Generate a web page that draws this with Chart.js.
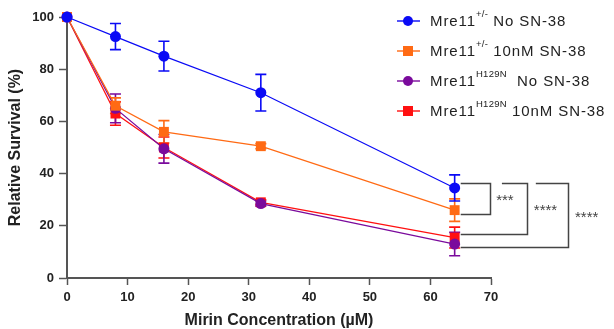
<!DOCTYPE html>
<html>
<head>
<meta charset="utf-8">
<script src="https://cdn.jsdelivr.net/npm/chart.js@4"></script>
<style>
    body { margin: 0; background: #fff; }
    #wrap { position: relative; width: 614px; height: 329px; }
    #legend { position: absolute; left: 397px; top: 9px; font-family: Arial, "Liberation Sans", sans-serif; font-size: 15px; letter-spacing: 0.9px; color: #222; }
    .row { position: relative; height: 30px; line-height: 24px; padding-left: 33px; white-space: nowrap; }
    .row .ln { position: absolute; left: 0; top: 11px; width: 23px; height: 2px; }
    .row .mk { position: absolute; left: 6px; top: 7px; width: 10px; height: 10px; }
    .row sup { font-size: 9.5px; letter-spacing: 0.3px; position: relative; top: -2px; vertical-align: top; line-height: 14px; }
</style>
</head>
<body>
<div id="wrap">
    <canvas id="survivalChart" width="614" height="329"></canvas>
    <div id="legend"></div>
</div>
<script>
// Mirin concentrations (uM)
const concentrations = [0, 8, 16, 32, 64];

// Relative survival (%) per group, with error bars
const hetNoDrug = [100, 92.5, 85, 71, 34.5];
const hetNoDrugErr = [0, 5, 5.7, 7, 5];
const hetSN38 = [100, 66, 56, 50.5, 26];
const hetSN38Err = [0, 3, 4.3, 1, 4.3];
const mutNoDrug = [100, 65, 49.5, 28.5, 13];
const mutNoDrugErr = [0, 5.5, 5.5, 1, 4.5];
const mutSN38 = [100, 63, 50, 29, 15.5];
const mutSN38Err = [0, 4.5, 4, 1, 4];

const seriesLabels = [
    ['Mre11', '+/-', ' No SN-38'],
    ['Mre11', '+/-', ' 10nM SN-38'],
    ['Mre11', 'H129N', '  No SN-38'],
    ['Mre11', 'H129N', ' 10nM SN-38']
];
const seriesColors = ['#0a0af5', '#ff6a14', '#7a0a9c', '#ff1010'];
const seriesShapes = ['circle', 'rect', 'circle', 'rect'];

// Significance comparisons at 64 uM (top level, bottom level, bracket x, top start x, label x)
const sigLabels = ['***', '****', '****'];
const sigTop = [36.5, 36.5, 36.5];
const sigBottom = [24.5, 16.9, 12];
const sigBracketX = [69.8, 76, 82.7];
const sigTopStartX = [65, 71.8, 77.4];
const sigLabelX = [72.3, 79, 85.8];

const xTicks = [0, 10, 20, 30, 40, 50, 60, 70];
const yTicks = [0, 20, 40, 60, 80, 100];

const allValues = [hetNoDrug, hetSN38, mutNoDrug, mutSN38];
const allErrors = [hetNoDrugErr, hetSN38Err, mutNoDrugErr, mutSN38Err];

const fontFamily = 'Arial, "Liberation Sans", sans-serif';

// Error bars drawn behind the markers
const errorBarPlugin = {
    id: 'errorBars',
    beforeDatasetsDraw(chart) {
        const ctx = chart.ctx;
        const xs = chart.scales.x;
        const ys = chart.scales.y;
        for (let d = allValues.length - 1; d >= 0; d--) {
            ctx.save();
            ctx.strokeStyle = seriesColors[d];
            ctx.lineWidth = 1.6;
            allValues[d].forEach((v, i) => {
                const err = allErrors[d][i];
                if (!err) return;
                const px = xs.getPixelForValue(concentrations[i]);
                const top = ys.getPixelForValue(v + err);
                const bot = ys.getPixelForValue(v - err);
                ctx.beginPath();
                ctx.moveTo(px, top); ctx.lineTo(px, bot);
                ctx.moveTo(px - 5.5, top); ctx.lineTo(px + 5.5, top);
                ctx.moveTo(px - 5.5, bot); ctx.lineTo(px + 5.5, bot);
                ctx.stroke();
            });
            ctx.restore();
        }
    }
};

// Significance brackets on the right side
const bracketPlugin = {
    id: 'brackets',
    afterDatasetsDraw(chart) {
        const ctx = chart.ctx;
        const xs = chart.scales.x;
        const ys = chart.scales.y;
        ctx.save();
        ctx.strokeStyle = '#444';
        ctx.lineWidth = 1.5;
        ctx.fillStyle = '#444';
        ctx.font = '15px ' + fontFamily;
        ctx.textAlign = 'center';
        ctx.textBaseline = 'middle';
        sigLabels.forEach((label, i) => {
            const yTop = Math.round(ys.getPixelForValue(sigTop[i])) + 0.5;
            const yBot = Math.round(ys.getPixelForValue(sigBottom[i])) + 0.5;
            const xV = Math.round(xs.getPixelForValue(sigBracketX[i])) + 0.5;
            const xTopStart = xs.getPixelForValue(sigTopStartX[i]);
            const xBotStart = xs.getPixelForValue(sigTopStartX[0]);
            ctx.beginPath();
            ctx.moveTo(xTopStart, yTop);
            ctx.lineTo(xV, yTop);
            ctx.lineTo(xV, yBot);
            ctx.lineTo(xBotStart, yBot);
            ctx.stroke();
            ctx.fillText(label, xs.getPixelForValue(sigLabelX[i]), (yTop + yBot) / 2 + 2);
        });
        ctx.restore();
    }
};

function buildDatasets() {
    return allValues.map((values, d) => ({
        label: seriesLabels[d].join(''),
        data: values.map((v, i) => ({ x: concentrations[i], y: v })),
        borderColor: seriesColors[d],
        backgroundColor: seriesColors[d],
        borderWidth: 1.2,
        pointStyle: seriesShapes[d],
        pointRadius: seriesShapes[d] === 'rect' ? 7 : 5.5,
        pointBorderWidth: 0,
        pointHoverRadius: 6,
        fill: false,
        tension: 0,
        clip: false
    }));
}

function buildLegend() {
    const legend = document.getElementById('legend');
    seriesLabels.forEach((parts, d) => {
        const row = document.createElement('div');
        row.className = 'row';
        const round = seriesShapes[d] === 'circle' ? 'border-radius: 50%;' : '';
        row.innerHTML = `
            <span class="ln" style="background:${seriesColors[d]}; opacity:0.7"></span>
            <span class="mk" style="background:${seriesColors[d]}; ${round}"></span>
            ${parts[0]}<sup>${parts[1]}</sup>${parts[2].replace(/ /g, '&nbsp;')}
        `;
        legend.appendChild(row);
    });
}

const axisColor = '#555';

new Chart(document.getElementById('survivalChart'), {
    type: 'line',
    data: { datasets: buildDatasets() },
    options: {
        responsive: false,
        animation: false,
        layout: { padding: { left: 0, top: 17, right: 123, bottom: 0 } },
        plugins: {
            legend: { display: false },
            tooltip: { enabled: false }
        },
        scales: {
            x: {
                type: 'linear',
                min: 0,
                max: 70,
                afterBuildTicks: (scale) => { scale.ticks = xTicks.map(v => ({ value: v })); },
                afterFit: (scale) => { scale.height = 51; },
                grid: { drawOnChartArea: false, drawTicks: true, tickLength: 7, tickWidth: 1.5, tickColor: axisColor },
                border: { display: true, color: axisColor, width: 2 },
                ticks: { padding: 5, color: '#222', font: { family: fontFamily, size: 13, weight: 'bold' } },
                title: {
                    display: true,
                    text: 'Mirin Concentration (µM)',
                    color: '#222',
                    padding: { top: 0, bottom: 0 },
                    font: { family: fontFamily, size: 16, weight: 'bold', lineHeight: 1 }
                }
            },
            y: {
                min: 0,
                max: 100,
                afterBuildTicks: (scale) => { scale.ticks = yTicks.map(v => ({ value: v })); },
                afterFit: (scale) => { scale.width = 67; },
                grid: { drawOnChartArea: false, drawTicks: true, tickLength: 8, tickWidth: 1.5, tickColor: axisColor },
                border: { display: true, color: axisColor, width: 2 },
                ticks: { padding: 5, color: '#222', font: { family: fontFamily, size: 13, weight: 'bold' } },
                title: {
                    display: true,
                    text: 'Relative Survival (%)',
                    color: '#222',
                    padding: { top: 8, bottom: 0 },
                    font: { family: fontFamily, size: 16, weight: 'bold', lineHeight: 1 }
                }
            }
        }
    },
    plugins: [errorBarPlugin, bracketPlugin]
});

buildLegend();
</script>
</body>
</html>
